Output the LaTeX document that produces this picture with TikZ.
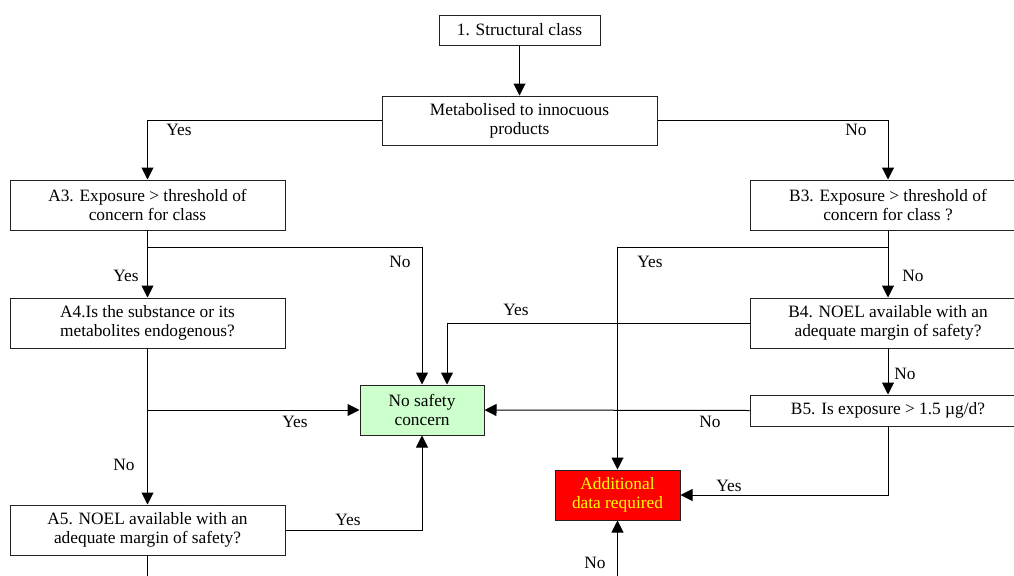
\documentclass[tikz,border=0pt]{standalone}
\usepackage{fontspec}
\setmainfont{Liberation Serif}
\usetikzlibrary{arrows.meta}
\definecolor{boxline}{HTML}{222222}
\definecolor{safegreen}{HTML}{CCFFCC}
\definecolor{addred}{HTML}{FF0000}
\definecolor{addyellow}{HTML}{FFFF00}
\begin{document}
\begin{tikzpicture}[x=0.75pt,y=-0.75pt,
  font=\fontsize{13}{14.25}\selectfont,
  box/.style={draw=boxline,line width=0.75pt,inner sep=0pt,align=center,
     minimum width=206.25pt,minimum height=37.5pt},
  arr/.style={draw=black,line width=0.75pt,-{Triangle[length=9pt,width=9pt]}},
  ln/.style={draw=black,line width=0.75pt},
  lbl/.style={inner sep=0pt}]
\clip (0,0) rectangle (1014,575);
\fill[white] (0,0) rectangle (1014,575);
% nodes
\node[box,minimum width=120.75pt,minimum height=22.5pt] (s1) at (519.5,30) {1. Structural class};
\node[box,minimum height=36.75pt] (met) at (519.5,120.5) {Metabolised to innocuous\\products};
\node[box] (a3) at (147.5,205) {A3. Exposure > threshold of\\concern for class};
\node[box] (a4) at (147.5,323) {A4.Is the substance or its\\metabolites endogenous?};
\node[box] (a5) at (147.5,530) {A5. NOEL available with an\\adequate margin of safety?};
\node[box,fill=safegreen,minimum width=93pt] (nsc) at (422,410) {No safety\\concern};
\node[box,minimum width=207pt] (b3) at (888,205) {B3. Exposure > threshold of\\concern for class ?};
\node[box,minimum width=207pt] (b4) at (888,323) {B4. NOEL available with an\\adequate margin of safety?};
\node[box,minimum width=207pt,minimum height=23.25pt] (b5) at (888,410.5) {B5. Is exposure > 1.5 µg/d?};
\node[box,fill=addred,text=addyellow,minimum width=93.75pt] (add) at (617.5,495) {Additional\\data required};
% junctions
\coordinate (j1) at (147.5,247);
\coordinate (j2) at (147.5,410);
\coordinate (j3) at (888,247);
\coordinate (a5end) at (147.5,600);
\coordinate (addin) at (617.5,600);
% connectors
\draw[arr] (s1.south) -- (met.north);
\draw[arr] (met.west) -| (a3.north);
\draw[arr] (met.east) -| (b3.north);
\draw[arr] (a3.south) -- (a4.north);
\draw[arr] (j1) -| (nsc.north);
\draw[arr] (a4.south) -- (a5.north);
\draw[arr] (j2) -- (nsc.west);
\draw[arr] (a5.east) -| (nsc.south);
\draw[ln] (a5.south) -- (a5end);
\draw[arr] (b3.south) -- (b4.north);
\draw[arr] (j3) -| (add.north);
\draw[arr] (b4.west) -| ([xshift=18.75pt]nsc.north);
\draw[arr] (b4.south) -- (b5.north);
\draw[arr] (b5.west) -- (nsc.east);
\draw[arr] (b5.south) |- (add.east);
\draw[arr] (addin) -- (add.south);
% labels
\node[lbl] (l1) at (179,130) {Yes};
\node[lbl] (l2) at (856,130) {No};
\node[lbl] (l3) at (126,276) {Yes};
\node[lbl] (l4) at (400,262) {No};
\node[lbl] (l5) at (295,422) {Yes};
\node[lbl] (l6) at (124,465) {No};
\node[lbl] (l7) at (348,520) {Yes};
\node[lbl] (l8) at (650,262) {Yes};
\node[lbl] (l9) at (913,276) {No};
\node[lbl] (l10) at (516,310) {Yes};
\node[lbl] (l11) at (905,374) {No};
\node[lbl] (l12) at (710,422) {No};
\node[lbl] (l13) at (729,486) {Yes};
\node[lbl] (l14) at (595,563) {No};
\end{tikzpicture}
\end{document}
